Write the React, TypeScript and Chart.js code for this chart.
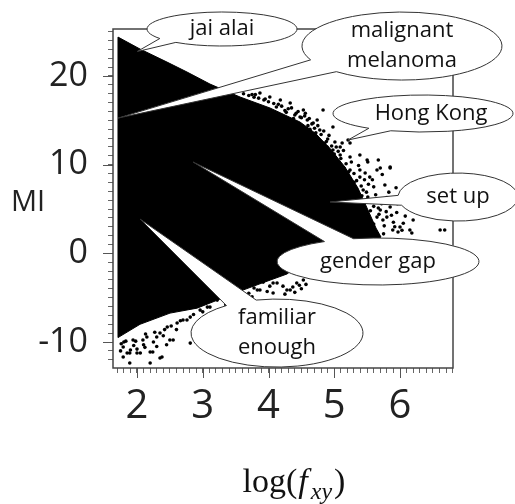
import React, { useEffect, useRef } from 'react';
import { Chart, registerables } from 'chart.js';

Chart.register(...registerables);

// ---- axis extents and ticks ----
const xMin = 1.635;
const xMax = 6.806;
const yMin = -12.93;
const yMax = 25.3;
const xMajorTicks = [2, 3, 4, 5, 6];
const yMajorTicks = [-10, 0, 10, 20];
const xMinorTicks: number[] = [];
for (let i = 17; i <= 68; i++) xMinorTicks.push(i / 10);
const yMinorTicks: number[] = [];
for (let i = -12; i <= 25; i++) yMinorTicks.push(i);

// ---- dense point cloud outline (x = log f_xy, y = MI) ----
const cloudOutline: [number, number][] = [
  [1.711, 24.39], [2.046, 23.04], [2.456, 21.57], [2.760, 20.45], [3.110, 19.09],
  [3.567, 17.63], [4.023, 16.39], [4.479, 14.81], [4.707, 13.57], [4.935, 11.84],
  [5.163, 9.73], [5.361, 7.36], [5.513, 4.88], [5.635, 2.85], [5.711, 1.84],
  [5.620, 1.39], [4.783, 1.05], [4.525, -0.98], [4.281, -2.33], [3.901, -3.35],
  [3.612, -4.14], [3.262, -5.16], [2.913, -6.18], [2.502, -6.74], [2.046, -8.0],
  [1.711, -9.5], [1.711, 24.39],
];

// ---- sparse points on the fringe of the cloud ----
const fringeUpper: [number, number][] = [
  [5.21, 12.78], [5.12, 12.44], [5.01, 12.55], [5.51, 10.30], [5.67, 10.52], [5.85, 9.62],
  [5.70, 9.62], [5.54, 8.60], [5.39, 9.40], [5.77, 7.70], [5.85, 5.22], [5.67, 5.11],
  [5.74, 3.76], [5.65, 4.09], [6.00, 2.97], [6.18, 2.29], [5.97, 2.40], [6.61, 2.63],
  [6.68, 2.63], [5.19, 8.27], [5.32, 6.91], [5.44, 7.14], [5.51, 6.35], [5.24, 10.86],
  [5.09, 11.09], [4.94, 10.86], [4.89, 11.99], [4.78, 13.91], [4.68, 14.70], [4.59, 15.03],
  [4.48, 15.37], [4.68, 13.12], [4.98, 11.65], [5.24, 12.44], [5.39, 11.09], [5.47, 9.06],
  [5.09, 11.99], [4.74, 15.03], [4.53, 16.17], [4.33, 16.95], [4.18, 17.29], [4.02, 17.63],
  [3.87, 18.08], [4.83, 16.17], [4.98, 14.24], [5.70, 4.88], [5.80, 4.09], [5.89, 2.63],
  [6.15, 2.63], [6.20, 3.76], [5.65, 9.40], [5.85, 9.73], [5.50, 10.52], [5.24, 9.40],
  [5.39, 8.60], [4.30, 16.3], [4.42, 15.8], [4.60, 14.4], [4.72, 13.6], [4.85, 12.4],
  [5.00, 11.2], [5.15, 9.6], [5.30, 8.0], [5.42, 6.5], [5.55, 4.8], [5.60, 3.3],
  [4.15, 16.8], [3.95, 17.4], [3.75, 17.9], [4.55, 15.5], [4.90, 12.9], [5.05, 10.3],
  [5.28, 7.4], [5.45, 5.7], [5.58, 2.8], [5.75, 2.2], [5.90, 3.5], [6.05, 3.4],
  [5.80, 6.3], [5.60, 7.5], [5.95, 4.6],
  [3.62, 18.0], [3.70, 17.8], [3.80, 17.9], [3.85, 17.5], [3.93, 17.3], [4.00, 17.1],
  [3.78, 17.6], [4.08, 16.9], [4.12, 16.5], [4.20, 16.6], [4.25, 16.1], [4.35, 16.4],
  [4.40, 15.6], [4.45, 16.0], [4.50, 15.3], [4.38, 15.2], [4.27, 15.9], [4.56, 15.8],
  [4.62, 15.2], [4.66, 14.6], [4.70, 14.1], [4.75, 14.4], [4.80, 13.4], [4.84, 13.8],
  [4.88, 12.6], [4.92, 13.3], [4.96, 12.1], [4.63, 14.0], [4.73, 13.2], [4.87, 11.9],
  [5.03, 12.0], [5.06, 11.5], [5.10, 10.7], [5.14, 11.6], [5.18, 10.1], [5.22, 9.2],
  [5.26, 10.3], [5.30, 9.0], [5.34, 8.2], [5.37, 9.9], [5.41, 7.6], [5.46, 8.3],
  [5.49, 6.9], [5.52, 7.8], [5.33, 7.3], [5.20, 8.9], [5.56, 6.0], [5.60, 5.3],
  [5.63, 6.6], [5.68, 4.4], [5.72, 5.6], [5.76, 3.1], [5.79, 4.7], [5.83, 6.9],
  [5.87, 4.3], [5.92, 3.0], [5.96, 5.6], [6.03, 2.6], [6.08, 4.2], [5.58, 8.3],
  [5.73, 8.9], [5.94, 7.4],
];
const fringeLower: [number, number][] = [
  [3.92, -2.67], [4.18, -1.88], [4.33, -4.14], [3.83, -4.14], [3.67, -3.35], [4.07, -3.35],
  [4.43, -3.35], [3.57, -4.48], [3.87, -4.14], [4.28, -4.14], [4.37, -3.80], [4.53, -3.01],
  [4.13, -3.35], [4.07, -4.48], [3.92, -3.24], [4.60, -2.3], [4.70, -1.7], [4.50, -4.0],
  [3.75, -4.9], [3.45, -5.3], [3.35, -5.8], [3.60, -4.7], [3.70, -4.5], [3.78, -3.9],
  [3.98, -4.3], [4.02, -3.7], [4.22, -3.7], [4.25, -4.6], [4.40, -4.4], [4.47, -3.6],
  [4.57, -3.5], [3.52, -5.0],
  [1.79, -10.57], [1.89, -11.24], [2.05, -11.24], [2.20, -11.13], [2.35, -11.81], [1.89, -12.37],
  [2.20, -12.37], [1.79, -11.69], [1.94, -9.78], [2.15, -9.44], [2.35, -8.99], [2.46, -8.31],
  [2.61, -7.86], [2.70, -7.52], [2.81, -7.19], [2.81, -10.12], [2.50, -9.78], [2.96, -6.40],
  [3.11, -6.06], [1.85, -11.24], [2.00, -11.24], [2.24, -11.13], [2.38, -11.69], [2.55, -9.78],
  [2.09, -9.78], [2.30, -9.44], [2.76, -7.52], [3.07, -6.06], [3.22, -5.27], [1.80, -10.0],
  [1.95, -10.4], [2.10, -10.3], [2.25, -10.0], [2.40, -9.3], [2.60, -8.6], [1.75, -11.0],
  [2.00, -10.8], [1.76, -10.2], [1.83, -9.9], [1.98, -9.9], [2.13, -9.1], [2.27, -8.9],
  [2.42, -8.6], [2.52, -8.2], [2.66, -7.6], [2.86, -6.9], [3.00, -6.6], [1.90, -10.9],
  [2.12, -10.6], [2.30, -10.5], [2.45, -10.3],
];

// ---- callouts: labels, anchor (bubble centre) and pointer tip in data units ----
const calloutLabels = [['jai alai'], ['malignant', 'melanoma'], ['Hong Kong'], ['set up'], ['gender gap'], ['familiar', 'enough']];
const calloutX = [3.293, 6.030, 6.350, 6.882, 5.665, 4.129];
const calloutY = [25.30, 23.38, 15.77, 6.35, -0.92, -8.99];
const pointerX = [2.0, 1.711, 5.209, 4.935, 2.852, 2.046];
const pointerY = [22.75, 15.25, 12.78, 5.79, 10.30, 3.87];

// bubble shape (pixels / degrees)
const bubbleShape = [
  { rx: 75, ry: 17, g1: 128, g2: 146, tdx: 0 },
  { rx: 100, ry: 34, g1: 131, g2: 156, tdx: 0 },
  { rx: 90, ry: 18.5, g1: 111, g2: 127, tdx: 8 },
  { rx: 60, ry: 24, g1: 160, g2: 184, tdx: 0 },
  { rx: 101, ry: 23.5, g1: 238, g2: 256, tdx: 0 },
  { rx: 86, ry: 34, g1: 234, g2: 256, tdx: 0 },
];

const overlayPlugin = {
  id: 'overlay',
  afterDraw(chart: any) {
    const { ctx, chartArea: a, scales } = chart;
    const xs = scales.x;
    const ys = scales.y;
    ctx.save();

    // longer major tick marks
    ctx.strokeStyle = '#555';
    ctx.lineWidth = 1;
    yMajorTicks.forEach((v) => {
      const py = Math.round(ys.getPixelForValue(v)) + 0.5;
      ctx.beginPath();
      ctx.moveTo(a.left - 10, py);
      ctx.lineTo(a.left, py);
      ctx.stroke();
    });
    xMajorTicks.forEach((v) => {
      const px = Math.round(xs.getPixelForValue(v)) + 0.5;
      ctx.beginPath();
      ctx.moveTo(px, a.bottom);
      ctx.lineTo(px, a.bottom + 10);
      ctx.stroke();
    });

    // frame
    ctx.strokeStyle = '#444';
    ctx.lineWidth = 1.5;
    ctx.strokeRect(a.left, a.top, a.right - a.left, a.bottom - a.top);

    // callouts
    calloutLabels.forEach((lines, i) => {
      const s = bubbleShape[i];
      const cx = xs.getPixelForValue(calloutX[i]);
      const cy = ys.getPixelForValue(calloutY[i]);
      const tx = xs.getPixelForValue(pointerX[i]);
      const ty = ys.getPixelForValue(pointerY[i]);
      const a1 = (s.g1 * Math.PI) / 180;
      const a2 = (s.g2 * Math.PI) / 180;
      ctx.beginPath();
      ctx.ellipse(cx, cy, s.rx, s.ry, 0, a2, a1 + Math.PI * 2);
      ctx.lineTo(tx, ty);
      ctx.closePath();
      ctx.fillStyle = '#fff';
      ctx.fill();
      ctx.strokeStyle = '#333';
      ctx.lineWidth = 1;
      ctx.stroke();

      ctx.fillStyle = '#111';
      ctx.font = '22px "Open Sans"';
      ctx.textAlign = 'center';
      ctx.textBaseline = 'middle';
      const n = lines.length;
      lines.forEach((t, j) => {
        const off = (j - (n - 1) / 2) * 30;
        ctx.fillText(t, cx + s.tdx, cy + off);
      });
    });

    // y-axis title
    ctx.fillStyle = '#222';
    ctx.font = '29px "Open Sans"';
    ctx.textAlign = 'left';
    ctx.textBaseline = 'middle';
    ctx.fillText('MI', 11, 203);

    // x-axis title: log(f_xy)
    const parts = [
      { t: 'log(', f: '34px "Liberation Serif"', dy: 0, gap: 1 },
      { t: 'f', f: 'italic 34px "Liberation Serif"', dy: 0, gap: 3 },
      { t: 'xy', f: 'italic 24px "Liberation Serif"', dy: 7, gap: 2 },
      { t: ')', f: '34px "Liberation Serif"', dy: 0, gap: 0 },
    ];
    let total = 0;
    parts.forEach((p) => {
      ctx.font = p.f;
      total += ctx.measureText(p.t).width + p.gap;
    });
    const cxTitle = 294;
    let x = cxTitle - total / 2;
    ctx.textBaseline = 'alphabetic';
    ctx.fillStyle = '#111';
    parts.forEach((p) => {
      ctx.font = p.f;
      ctx.fillText(p.t, x, 492 + p.dy);
      x += ctx.measureText(p.t).width + p.gap;
    });

    ctx.restore();
  },
};

export default function App() {
  const ref = useRef<HTMLCanvasElement>(null);
  useEffect(() => {
    if (!ref.current) return;
    const chart = new Chart(ref.current, {
      type: 'scatter',
      data: {
        datasets: [
          {
            type: 'line',
            data: cloudOutline.map(([x, y]) => ({ x, y })),
            fill: 'shape',
            backgroundColor: '#000',
            borderColor: '#000',
            borderWidth: 1,
            pointRadius: 0,
            tension: 0,
          } as any,
          {
            type: 'scatter',
            data: [...fringeUpper, ...fringeLower].map(([x, y]) => ({ x, y })),
            backgroundColor: '#000',
            borderWidth: 0,
            pointRadius: 1.8,
          },
        ],
      },
      options: {
        responsive: false,
        animation: false,
        devicePixelRatio: 1,
        layout: { padding: { top: 29, right: 62, left: 0, bottom: 0 } },
        plugins: { legend: { display: false }, tooltip: { enabled: false } },
        scales: {
          x: {
            type: 'linear',
            min: xMin,
            max: xMax,
            afterBuildTicks: (s: any) => {
              s.ticks = xMinorTicks.map((v) => ({ value: v }));
            },
            afterFit: (s: any) => {
              s.height = 136;
              s.paddingLeft = 0;
              s.paddingRight = 0;
            },
            ticks: {
              autoSkip: false,
              maxRotation: 0,
              minRotation: 0,
              padding: 10,
              color: '#222',
              font: { family: 'Open Sans', size: 40 },
              callback: (v: any) =>
                xMajorTicks.some((m) => Math.abs(m - Number(v)) < 1e-6) ? String(Math.round(Number(v))) : '',
            },
            grid: { drawOnChartArea: false, drawTicks: true, tickLength: 5, color: '#666', lineWidth: 1 },
            border: { display: false },
          },
          y: {
            type: 'linear',
            min: yMin,
            max: yMax,
            afterBuildTicks: (s: any) => {
              s.ticks = yMinorTicks.map((v) => ({ value: v }));
            },
            afterFit: (s: any) => {
              s.width = 113;
              s.paddingTop = 0;
              s.paddingBottom = 0;
            },
            ticks: {
              autoSkip: false,
              padding: 20,
              color: '#222',
              font: { family: 'Open Sans', size: 34 },
              callback: (v: any) => (yMajorTicks.includes(Number(v)) ? String(v) : ''),
            },
            grid: { drawOnChartArea: false, drawTicks: true, tickLength: 5, color: '#666', lineWidth: 1 },
            border: { display: false },
          },
        },
      },
      plugins: [overlayPlugin],
    });
    return () => chart.destroy();
  }, []);

  return (
    <div style={{ position: 'fixed', left: 0, top: 0, width: 515, height: 504, background: '#fff' }}>
      <canvas ref={ref} width={515} height={504} style={{ display: 'block' }} />
    </div>
  );
}
